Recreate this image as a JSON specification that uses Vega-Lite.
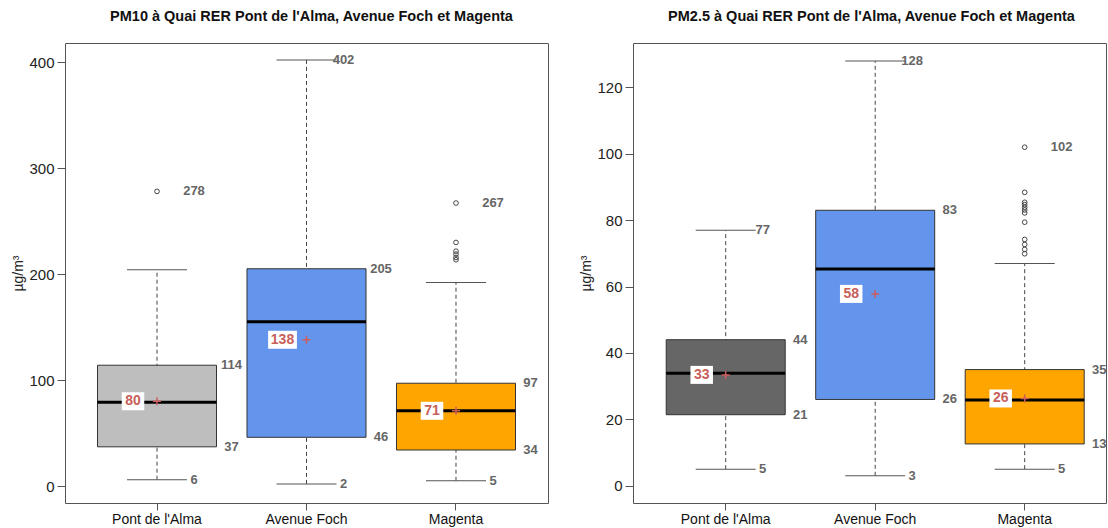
{
  "$schema": "https://vega.github.io/schema/vega-lite/v6.json",
  "background": "white",
  "padding": {"left": 11, "top": 8, "right": 0, "bottom": 0},
  "spacing": 30,
  "resolve": {"scale": {"color": "independent"}},
  "config": {
    "font": "Liberation Sans",
    "view": {"stroke": "#555555", "strokeWidth": 1},
    "axis": {"domain": false, "grid": false, "tickColor": "#555555", "labelColor": "#222222", "labelFontSize": 14, "labelFont": "Liberation Sans", "titleFont": "Liberation Sans", "titleFontWeight": "normal", "titleFontSize": 14, "titleColor": "#222222"},
    "title": {"fontSize": 14.5, "fontWeight": "bold", "font": "Liberation Sans", "color": "#111111", "frame": "group", "anchor": "middle", "offset": 19}
  },
  "datasets": {
    "pm10": [
      {"site": "Pont de l'Alma", "lo": 6, "q1": 37, "med": 79, "q3": 114, "hi": 204, "mx": 278, "mean": 80},
      {"site": "Avenue Foch", "lo": 2, "q1": 46, "med": 155, "q3": 205, "hi": 402, "mx": 402, "mean": 138},
      {"site": "Magenta", "lo": 5, "q1": 34, "med": 71, "q3": 97, "hi": 192, "mx": 267, "mean": 71}
    ],
    "out10": [
      {"site": "Pont de l'Alma", "v": 278},
      {"site": "Magenta", "v": 267},
      {"site": "Magenta", "v": 229.8},
      {"site": "Magenta", "v": 221.6},
      {"site": "Magenta", "v": 218.8},
      {"site": "Magenta", "v": 215.7},
      {"site": "Magenta", "v": 213.5}
    ],
    "pm25": [
      {"site": "Pont de l'Alma", "lo": 5, "q1": 21.4, "med": 33.9, "q3": 44, "hi": 77, "mx": 77, "mean": 33.4},
      {"site": "Avenue Foch", "lo": 3, "q1": 26, "med": 65.3, "q3": 83, "hi": 128, "mx": 128, "mean": 57.8},
      {"site": "Magenta", "lo": 5, "q1": 12.6, "med": 25.8, "q3": 35, "hi": 67, "mx": 102, "mean": 26.3}
    ],
    "out25": [
      {"site": "Magenta", "v": 102},
      {"site": "Magenta", "v": 88.4},
      {"site": "Magenta", "v": 85.4},
      {"site": "Magenta", "v": 84.7},
      {"site": "Magenta", "v": 83.9},
      {"site": "Magenta", "v": 83.1},
      {"site": "Magenta", "v": 82.2},
      {"site": "Magenta", "v": 79.4},
      {"site": "Magenta", "v": 74.2},
      {"site": "Magenta", "v": 72.7},
      {"site": "Magenta", "v": 71.2},
      {"site": "Magenta", "v": 69.9}
    ]
  },
  "hconcat": [
    {
      "title": {"text": "PM10 à Quai RER Pont de l'Alma, Avenue Foch et Magenta", "dx": 5},
      "width": 483,
      "height": 460,
      "data": {"name": "pm10"},
      "encoding": {
        "x": {"field": "site", "type": "nominal", "sort": null,
              "scale": {"domain": ["Pont de l'Alma", "Avenue Foch", "Magenta"], "paddingInner": 0.204, "paddingOuter": 0.2174},
              "axis": {"title": null, "labelAngle": 0, "tickSize": 7, "labelPadding": 2, "labelColor": "#111111"}}
      },
      "layer": [
        {"mark": {"type": "rule", "strokeDash": [4, 3], "color": "#444444", "strokeWidth": 1},
         "encoding": {"y": {"field": "lo", "type": "quantitative",
                            "scale": {"domain": [-16, 418], "nice": false, "zero": false},
                            "axis": {"title": "µg/m³", "values": [0, 100, 200, 300, 400], "tickSize": 8, "labelPadding": 3, "titlePadding": 3, "labelFontSize": 15}},
                      "y2": {"field": "hi"}}},
        {"mark": {"type": "tick", "size": 60, "thickness": 1, "color": "#555555", "opacity": 1},
         "encoding": {"y": {"field": "lo", "type": "quantitative"}}},
        {"mark": {"type": "tick", "size": 60, "thickness": 1, "color": "#555555", "opacity": 1},
         "encoding": {"y": {"field": "hi", "type": "quantitative"}}},
        {"mark": {"type": "bar", "stroke": "#333333", "strokeWidth": 1, "opacity": 1},
         "encoding": {"y": {"field": "q1", "type": "quantitative"}, "y2": {"field": "q3"},
                      "color": {"field": "site", "type": "nominal", "legend": null,
                                "scale": {"domain": ["Pont de l'Alma", "Avenue Foch", "Magenta"], "range": ["#BEBEBE", "#6495ED", "#FFA500"]}}}},
        {"mark": {"type": "tick", "size": 119, "thickness": 3, "color": "#000000", "opacity": 1},
         "encoding": {"y": {"field": "med", "type": "quantitative"}}},
        {"data": {"name": "out10"},
         "mark": {"type": "point", "shape": "circle", "filled": false, "size": 22, "stroke": "#333333", "strokeWidth": 0.9, "opacity": 1},
         "encoding": {"x": {"field": "site", "type": "nominal"}, "y": {"field": "v", "type": "quantitative"}}},
        {"mark": {"type": "point", "filled": true, "fill": "#ffffff", "opacity": 1, "strokeWidth": 0, "size": 324, "xOffset": -24},
         "encoding": {"y": {"field": "mean", "type": "quantitative"},
                      "shape": {"condition": {"test": "datum.mean >= 99.5", "value": "M-1.6,-1L1.6,-1L1.6,1L-1.6,1Z"}, "value": "M-1.25,-1L1.25,-1L1.25,1L-1.25,1Z"}}},
        {"mark": {"type": "text", "dx": -24, "fontSize": 14, "fontWeight": "bold", "color": "#c8605a", "baseline": "middle", "align": "center"},
         "encoding": {"y": {"field": "mean", "type": "quantitative"}, "text": {"field": "mean", "format": ".0f"}}},
        {"mark": {"type": "point", "shape": "M-1,0L1,0M0,-1L0,1", "filled": false, "size": 64, "stroke": "#cd5c5c", "strokeWidth": 1.5, "opacity": 1},
         "encoding": {"y": {"field": "mean", "type": "quantitative"}}},
        {"mark": {"type": "text", "dx": 74.5, "fontSize": 13, "fontWeight": "bold", "color": "#666666", "baseline": "middle", "align": "center"},
         "encoding": {"y": {"field": "q3", "type": "quantitative"}, "text": {"field": "q3", "format": ".0f"}}},
        {"mark": {"type": "text", "dx": 74.5, "fontSize": 13, "fontWeight": "bold", "color": "#666666", "baseline": "middle", "align": "center"},
         "encoding": {"y": {"field": "q1", "type": "quantitative"}, "text": {"field": "q1", "format": ".0f"}}},
        {"mark": {"type": "text", "dx": 37, "fontSize": 13, "fontWeight": "bold", "color": "#666666", "baseline": "middle", "align": "center"},
         "encoding": {"y": {"field": "lo", "type": "quantitative"}, "text": {"field": "lo", "format": ".0f"}}},
        {"mark": {"type": "text", "dx": 37, "fontSize": 13, "fontWeight": "bold", "color": "#666666", "baseline": "middle", "align": "center"},
         "encoding": {"y": {"field": "mx", "type": "quantitative"}, "text": {"field": "mx", "format": ".0f"}}}
      ]
    },
    {
      "title": {"text": "PM2.5 à Quai RER Pont de l'Alma, Avenue Foch et Magenta", "dx": 2},
      "width": 473,
      "height": 460,
      "data": {"name": "pm25"},
      "encoding": {
        "x": {"field": "site", "type": "nominal", "sort": null,
              "scale": {"domain": ["Pont de l'Alma", "Avenue Foch", "Magenta"], "paddingInner": 0.204, "paddingOuter": 0.184, "align": 0.6036},
              "axis": {"title": null, "labelAngle": 0, "tickSize": 7, "labelPadding": 2, "labelColor": "#111111"}}
      },
      "layer": [
        {"mark": {"type": "rule", "strokeDash": [4, 3], "color": "#444444", "strokeWidth": 1},
         "encoding": {"y": {"field": "lo", "type": "quantitative",
                            "scale": {"domain": [-5.2, 133.4], "nice": false, "zero": false},
                            "axis": {"title": "µg/m³", "values": [0, 20, 40, 60, 80, 100, 120], "tickSize": 8, "labelPadding": 3, "titlePadding": 3, "labelFontSize": 15}},
                      "y2": {"field": "hi"}}},
        {"mark": {"type": "tick", "size": 60, "thickness": 1, "color": "#555555", "opacity": 1},
         "encoding": {"y": {"field": "lo", "type": "quantitative"}}},
        {"mark": {"type": "tick", "size": 60, "thickness": 1, "color": "#555555", "opacity": 1},
         "encoding": {"y": {"field": "hi", "type": "quantitative"}}},
        {"mark": {"type": "bar", "stroke": "#333333", "strokeWidth": 1, "opacity": 1},
         "encoding": {"y": {"field": "q1", "type": "quantitative"}, "y2": {"field": "q3"},
                      "color": {"field": "site", "type": "nominal", "legend": null,
                                "scale": {"domain": ["Pont de l'Alma", "Avenue Foch", "Magenta"], "range": ["#666666", "#6495ED", "#FFA500"]}}}},
        {"mark": {"type": "tick", "size": 119, "thickness": 3, "color": "#000000", "opacity": 1},
         "encoding": {"y": {"field": "med", "type": "quantitative"}}},
        {"data": {"name": "out25"},
         "mark": {"type": "point", "shape": "circle", "filled": false, "size": 22, "stroke": "#333333", "strokeWidth": 0.9, "opacity": 1},
         "encoding": {"x": {"field": "site", "type": "nominal"}, "y": {"field": "v", "type": "quantitative"}}},
        {"mark": {"type": "point", "filled": true, "fill": "#ffffff", "opacity": 1, "strokeWidth": 0, "size": 324, "xOffset": -24},
         "encoding": {"y": {"field": "mean", "type": "quantitative"},
                      "shape": {"condition": {"test": "datum.mean >= 99.5", "value": "M-1.6,-1L1.6,-1L1.6,1L-1.6,1Z"}, "value": "M-1.25,-1L1.25,-1L1.25,1L-1.25,1Z"}}},
        {"mark": {"type": "text", "dx": -24, "fontSize": 14, "fontWeight": "bold", "color": "#c8605a", "baseline": "middle", "align": "center"},
         "encoding": {"y": {"field": "mean", "type": "quantitative"}, "text": {"field": "mean", "format": ".0f"}}},
        {"mark": {"type": "point", "shape": "M-1,0L1,0M0,-1L0,1", "filled": false, "size": 64, "stroke": "#cd5c5c", "strokeWidth": 1.5, "opacity": 1},
         "encoding": {"y": {"field": "mean", "type": "quantitative"}}},
        {"mark": {"type": "text", "dx": 74.5, "fontSize": 13, "fontWeight": "bold", "color": "#666666", "baseline": "middle", "align": "center", "clip": true},
         "encoding": {"y": {"field": "q3", "type": "quantitative"}, "text": {"field": "q3", "format": ".0f"}}},
        {"mark": {"type": "text", "dx": 74.5, "fontSize": 13, "fontWeight": "bold", "color": "#666666", "baseline": "middle", "align": "center", "clip": true},
         "encoding": {"y": {"field": "q1", "type": "quantitative"}, "text": {"field": "q1", "format": ".0f"}}},
        {"mark": {"type": "text", "dx": 37, "fontSize": 13, "fontWeight": "bold", "color": "#666666", "baseline": "middle", "align": "center"},
         "encoding": {"y": {"field": "lo", "type": "quantitative"}, "text": {"field": "lo", "format": ".0f"}}},
        {"mark": {"type": "text", "dx": 37, "fontSize": 13, "fontWeight": "bold", "color": "#666666", "baseline": "middle", "align": "center"},
         "encoding": {"y": {"field": "mx", "type": "quantitative"}, "text": {"field": "mx", "format": ".0f"}}}
      ]
    }
  ]
}
